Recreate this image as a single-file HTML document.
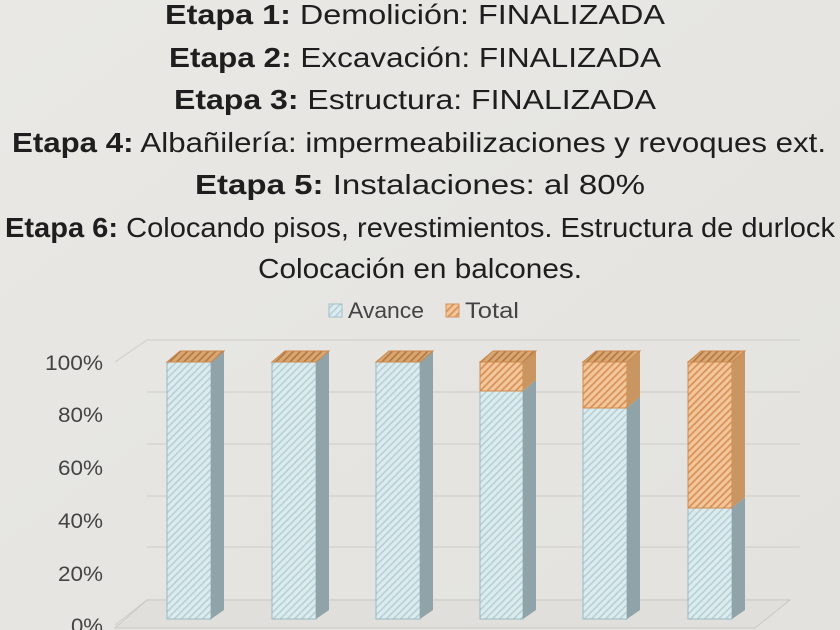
<!DOCTYPE html>
<html><head><meta charset="utf-8"><style>
html,body{margin:0;padding:0;background:#e6e5e1;}
svg{display:block;font-family:"Liberation Sans",sans-serif;}
</style></head><body>
<svg width="840" height="630" viewBox="0 0 840 630" xmlns="http://www.w3.org/2000/svg">
<defs>
<linearGradient id="bg" x1="0" y1="0" x2="1" y2="1"><stop offset="0" stop-color="#e9e8e4"/><stop offset="1" stop-color="#e3e2de"/></linearGradient>
<pattern id="pb" width="5" height="5" patternUnits="userSpaceOnUse" patternTransform="rotate(45)">
<rect width="5" height="5" fill="#dcebee"/><rect width="1.6" height="5" fill="#b7cfd6"/></pattern>
<pattern id="po" width="5" height="5" patternUnits="userSpaceOnUse" patternTransform="rotate(45)">
<rect width="5" height="5" fill="#f2c79c"/><rect width="1.8" height="5" fill="#d9935a"/></pattern>
<pattern id="pot" width="5" height="5" patternUnits="userSpaceOnUse" patternTransform="rotate(45)">
<rect width="5" height="5" fill="#d9a872"/><rect width="1.8" height="5" fill="#b77a45"/></pattern>
</defs>
<rect width="840" height="630" fill="url(#bg)"/>
<g fill="#1e1e1e" font-size="28" text-anchor="start">
<text x="165" y="24" textLength="500" lengthAdjust="spacingAndGlyphs"><tspan font-weight="bold">Etapa 1:</tspan> Demolición: FINALIZADA</text>
<text x="169" y="67" textLength="492" lengthAdjust="spacingAndGlyphs"><tspan font-weight="bold">Etapa 2:</tspan> Excavación: FINALIZADA</text>
<text x="174" y="109" textLength="482" lengthAdjust="spacingAndGlyphs"><tspan font-weight="bold">Etapa 3:</tspan> Estructura: FINALIZADA</text>
<text x="12" y="152" textLength="814" lengthAdjust="spacingAndGlyphs"><tspan font-weight="bold">Etapa 4:</tspan> Albañilería: impermeabilizaciones y revoques ext.</text>
<text x="195" y="194" textLength="450" lengthAdjust="spacingAndGlyphs"><tspan font-weight="bold">Etapa 5:</tspan> Instalaciones: al 80%</text>
<text x="5" y="237" textLength="830" lengthAdjust="spacingAndGlyphs"><tspan font-weight="bold">Etapa 6:</tspan> Colocando pisos, revestimientos. Estructura de durlock</text>
<text x="258" y="278" textLength="324" lengthAdjust="spacingAndGlyphs">Colocación en balcones.</text>
</g>
<rect x="329" y="304" width="13" height="13" fill="url(#pb)" stroke="#9fbfc8"/>
<text x="348" y="318" font-size="22" fill="#444" textLength="76" lengthAdjust="spacingAndGlyphs">Avance</text>
<rect x="446" y="304" width="13" height="13" fill="url(#po)" stroke="#d9935a"/>
<text x="465" y="318" font-size="22" fill="#444" textLength="54" lengthAdjust="spacingAndGlyphs">Total</text>
<g stroke="#d2d1cd" stroke-width="1.2" fill="none">
<line x1="147" y1="340" x2="800" y2="340"/>
<line x1="147" y1="392" x2="800" y2="392"/>
<line x1="147" y1="444" x2="800" y2="444"/>
<line x1="147" y1="496" x2="800" y2="496"/>
<line x1="147" y1="547" x2="800" y2="547"/>
<line x1="147" y1="600" x2="790" y2="600"/>
<line x1="147" y1="340" x2="115" y2="362"/>
<line x1="147" y1="600" x2="115" y2="625"/>
</g>
<polygon points="147,600 790,600 755,628 115,628" fill="#e0dfdb" stroke="#c9c8c4"/>
<g font-size="21" fill="#444">
<text x="45" y="370" textLength="58" lengthAdjust="spacingAndGlyphs">100%</text>
<text x="58" y="422" textLength="45" lengthAdjust="spacingAndGlyphs">80%</text>
<text x="58" y="475" textLength="45" lengthAdjust="spacingAndGlyphs">60%</text>
<text x="58" y="528" textLength="45" lengthAdjust="spacingAndGlyphs">40%</text>
<text x="58" y="581" textLength="45" lengthAdjust="spacingAndGlyphs">20%</text>
<text x="71" y="633" textLength="32" lengthAdjust="spacingAndGlyphs">0%</text>
</g>
<g stroke-width="1">
<rect x="167" y="362" width="44" height="257" fill="url(#pb)" stroke="#9ab8c0"/>
<polygon points="211,362 224,351 224,610 211,619" fill="#8fa3a8"/>
<polygon points="167,362 180,351 224,351 211,362" fill="url(#pot)" stroke="#c98a4f"/>
<rect x="272" y="362" width="44" height="257" fill="url(#pb)" stroke="#9ab8c0"/>
<polygon points="316,362 329,351 329,610 316,619" fill="#8fa3a8"/>
<polygon points="272,362 285,351 329,351 316,362" fill="url(#pot)" stroke="#c98a4f"/>
<rect x="376" y="362" width="44" height="257" fill="url(#pb)" stroke="#9ab8c0"/>
<polygon points="420,362 433,351 433,610 420,619" fill="#8fa3a8"/>
<polygon points="376,362 389,351 433,351 420,362" fill="url(#pot)" stroke="#c98a4f"/>
<rect x="480" y="391" width="43" height="228" fill="url(#pb)" stroke="#9ab8c0"/>
<polygon points="523,391 536,380 536,610 523,619" fill="#8fa3a8"/>
<rect x="480" y="362" width="43" height="29" fill="url(#po)" stroke="#d08a4c"/>
<polygon points="523,362 536,351 536,380 523,391" fill="#c99561"/>
<polygon points="480,362 493,351 536,351 523,362" fill="url(#pot)" stroke="#c98a4f"/>
<rect x="583" y="408" width="44" height="211" fill="url(#pb)" stroke="#9ab8c0"/>
<polygon points="627,408 640,397 640,610 627,619" fill="#8fa3a8"/>
<rect x="583" y="362" width="44" height="46" fill="url(#po)" stroke="#d08a4c"/>
<polygon points="627,362 640,351 640,397 627,408" fill="#c99561"/>
<polygon points="583,362 596,351 640,351 627,362" fill="url(#pot)" stroke="#c98a4f"/>
<rect x="688" y="508" width="44" height="111" fill="url(#pb)" stroke="#9ab8c0"/>
<polygon points="732,508 745,497 745,610 732,619" fill="#8fa3a8"/>
<rect x="688" y="362" width="44" height="146" fill="url(#po)" stroke="#d08a4c"/>
<polygon points="732,362 745,351 745,497 732,508" fill="#c99561"/>
<polygon points="688,362 701,351 745,351 732,362" fill="url(#pot)" stroke="#c98a4f"/>
</g>
</svg>
</body></html>
